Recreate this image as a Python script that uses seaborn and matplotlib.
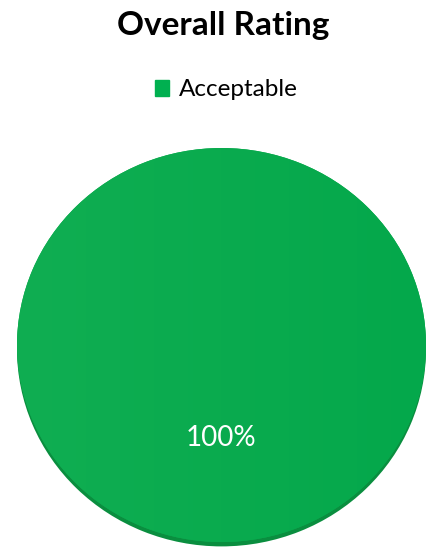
import matplotlib
matplotlib.use("Agg")
import matplotlib.pyplot as plt
import seaborn as sns
import numpy as np
from matplotlib.colors import LinearSegmentedColormap

# Data
categories = ["Acceptable"]
values = [100]
title_text = "Overall Rating"

sns.set_theme(style="white")
plt.rcParams['font.family'] = ['Lato', 'DejaVu Sans']

main_color = "#0BAB4E"
edge_color = "#0A8E3F"

fig = plt.figure(figsize=(4.27, 5.48), dpi=100)
ax = fig.add_axes([17/427, 2/548, 409/427, 398/548])

# depth (3D edge)
ax.pie(values, colors=[edge_color], startangle=90, counterclock=False,
       center=(0, -0.022), radius=1, frame=True,
       wedgeprops=dict(linewidth=0, edgecolor="none"))
wedges, texts, autotexts = ax.pie(values, labels=None, colors=[main_color],
                                  startangle=90, counterclock=False,
                                  autopct=lambda p: f"{p:.0f}%", pctdistance=0.47,
                                  textprops=dict(color="white", fontsize=20),
                                  radius=1, center=(0, 0), frame=True,
                                  wedgeprops=dict(linewidth=0, edgecolor="none"))

# subtle horizontal gradient
grad = np.linspace(0, 1, 256).reshape(1, -1)
cmap = LinearSegmentedColormap.from_list("g", ["#10AE52", "#04A84B"])
im = ax.imshow(grad, extent=[-1, 1, -1, 1], cmap=cmap, aspect="auto",
               zorder=wedges[0].get_zorder() + 0.1)
im.set_clip_path(wedges[0])
for t in autotexts:
    t.set_zorder(10)

ax.set_xlim(-1.0, 1.0)
ax.set_ylim(-1.02, 1.0)
ax.set_aspect("auto")
ax.axis("off")

fig.text(223.5/427, 1 - 26/548, title_text, ha="center", va="center",
         fontsize=24, fontweight="bold", color="#000000")

# legend
handles = [plt.Rectangle((0, 0), 1, 1, color="#00B050")]
leg = fig.legend(handles, categories, loc="center", bbox_to_anchor=(226.5/427, 1 - 90/548),
                 frameon=False, fontsize=17.5, handlelength=0.6, handleheight=0.6,
                 handletextpad=0.4, borderpad=0, borderaxespad=0)
for t in leg.get_texts():
    t.set_color("#000000")

fig.savefig("out.png", dpi=100)
